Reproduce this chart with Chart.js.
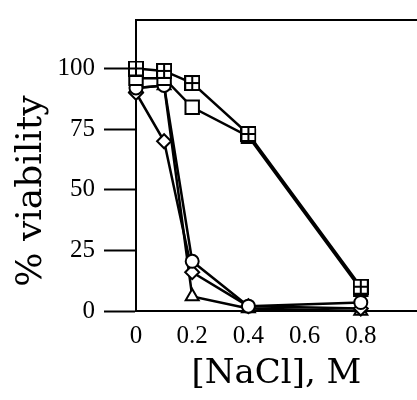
<!DOCTYPE html>
<html>
<head>
<meta charset="utf-8">
<script src="https://cdn.jsdelivr.net/npm/chart.js@4.4.1/dist/chart.umd.min.js"></script>
<style>
  html, body { margin: 0; padding: 0; background: #fff; }
  #wrap { width: 417px; height: 400px; }
</style>
</head>
<body>
<div id="wrap"><canvas id="viabilityChart"></canvas></div>
<script>
// values
const naclConc = [0, 0.1, 0.2, 0.4, 0.8];
const gridSquares = [100, 99, 94, 73, 10];
const openSquares = [96, 96, 84, 72, 9];
const circles = [92, 93, 20.5, 2, 3.5];
const diamonds = [90, 70, 16, 2, 1];
const triangles = [92, 93, 6, 1, 0];
const xTicks = [0, 0.2, 0.4, 0.6, 0.8];
const yTicks = [0, 25, 50, 75, 100];

const serif = 'DejaVu Serif';
const tickFont = 'Liberation Serif';

// square with a cross inside, for the first series
function makeGridSquare() {
  const c = document.createElement('canvas');
  c.width = 16;
  c.height = 16;
  const g = c.getContext('2d');
  g.fillStyle = '#fff';
  g.fillRect(1, 1, 14, 14);
  g.strokeStyle = '#000';
  g.lineWidth = 2;
  g.strokeRect(1, 1, 14, 14);
  g.beginPath();
  g.moveTo(8, 1);
  g.lineTo(8, 15);
  g.moveTo(1, 8);
  g.lineTo(15, 8);
  g.stroke();
  return c;
}

const toPoints = (ys) => naclConc.map((x, i) => ({ x, y: ys[i] }));

const series = (data, pointStyle, pointRadius, order) => ({
  data: toPoints(data),
  borderColor: '#000',
  borderWidth: 2.5,
  pointStyle,
  pointRadius,
  pointBorderWidth: 2,
  pointBorderColor: '#000',
  pointBackgroundColor: '#fff',
  clip: false,
  order,
});

const frameTop = {
  id: 'frameTop',
  afterDraw(chart) {
    const { ctx, chartArea } = chart;
    ctx.save();
    ctx.strokeStyle = '#000';
    ctx.lineWidth = 2;
    ctx.beginPath();
    ctx.moveTo(chartArea.left, chartArea.top);
    ctx.lineTo(chartArea.right, chartArea.top);
    ctx.stroke();
    // y axis title, placed a bit below the middle as in the figure
    ctx.translate(32, 191);
    ctx.rotate(-Math.PI / 2);
    ctx.fillStyle = '#000';
    ctx.font = `36px "${serif}"`;
    ctx.textAlign = 'center';
    ctx.textBaseline = 'middle';
    ctx.fillText('% viability', 0, 0);
    ctx.restore();
  },
};

const ctx = document.getElementById('viabilityChart').getContext('2d');
const viabilityChart = new Chart(ctx, {
  type: 'line',
  data: {
    datasets: [
      series(gridSquares, makeGridSquare(), 8, 1),
      series(openSquares, 'rect', 9.5, 2),
      series(circles, 'circle', 6.5, 3),
      series(diamonds, 'rectRot', 7, 4),
      series(triangles, 'triangle', 7.5, 5),
    ],
  },
  options: {
    responsive: true,
    maintainAspectRatio: false,
    animation: false,
    layout: { autoPadding: false, padding: { top: 20, right: 0, bottom: 0, left: 0 } },
    plugins: {
      legend: { display: false },
      tooltip: { enabled: false },
    },
    scales: {
      x: {
        type: 'linear',
        min: 0,
        max: 1.0,
        afterFit: (scale) => {
          scale.height = 89;
          scale.paddingLeft = 0;
          scale.paddingRight = 0;
        },
        afterBuildTicks: (scale) => { scale.ticks = xTicks.map((value) => ({ value })); },
        grid: { display: false, drawTicks: false },
        border: { color: '#000', width: 2 },
        ticks: {
          color: '#000',
          padding: 10,
          maxRotation: 0,
          font: { family: tickFont, size: 25 },
          callback: (v) => String(v),
        },
        title: {
          display: true,
          text: '[NaCl], M',
          color: '#000',
          font: { family: serif, size: 34 },
          padding: { top: 0, bottom: 5 },
        },
      },
      y: {
        min: 0,
        max: 120,
        afterFit: (scale) => {
          scale.width = 136;
          scale.paddingTop = 0;
          scale.paddingBottom = 0;
        },
        afterBuildTicks: (scale) => { scale.ticks = yTicks.map((value) => ({ value })); },
        grid: {
          drawOnChartArea: false,
          drawTicks: true,
          tickLength: 32,
          tickWidth: 2,
          tickColor: '#000',
        },
        border: { color: '#000', width: 2 },
        ticks: {
          color: '#000',
          padding: 9,
          font: { family: tickFont, size: 25 },
        },
      },
    },
  },
  plugins: [frameTop],
});
</script>
</body>
</html>
